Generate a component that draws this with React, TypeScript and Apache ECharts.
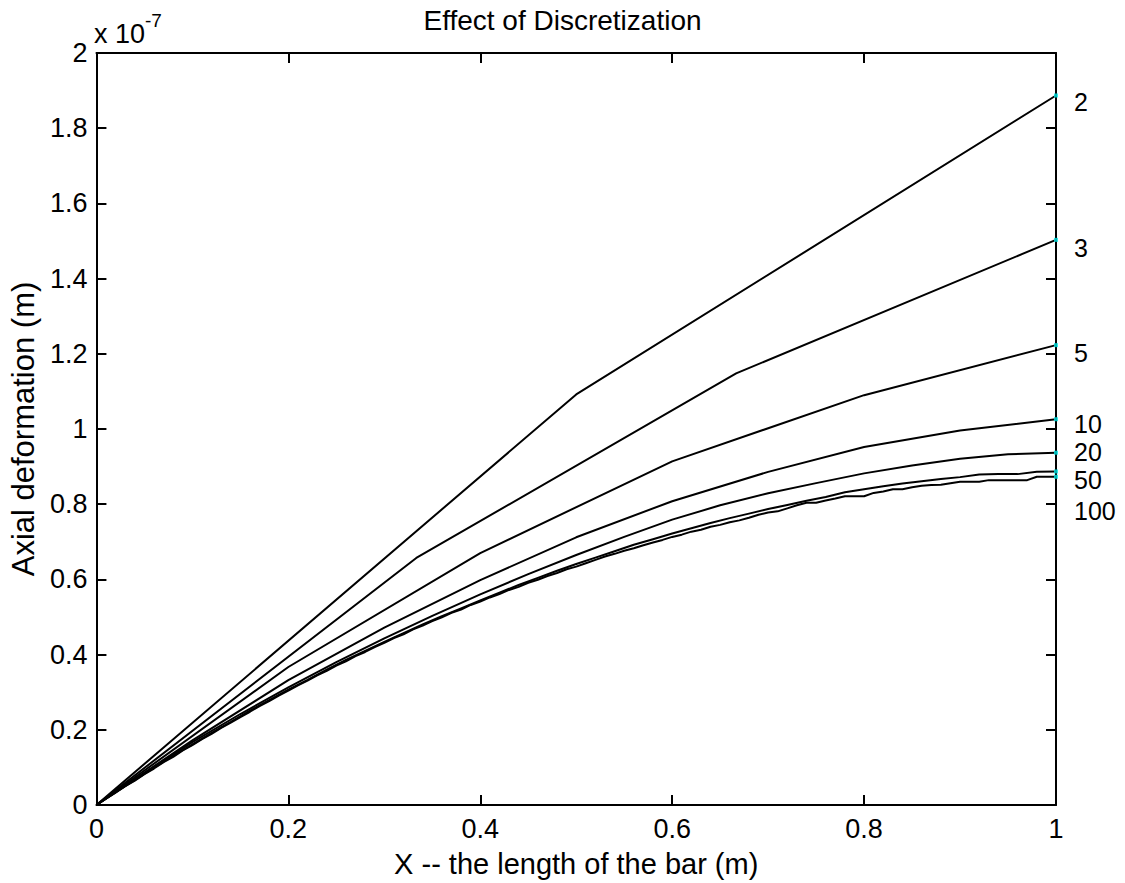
import React, { useEffect, useRef } from "react";
import * as echarts from "echarts";

// Axial deformation values in units of 1e-7 m, at evenly spaced nodes from x=0 to x=1
const U_2 = [0, 1.092, 1.887];
const U_3 = [0, 0.657, 1.148, 1.503];
const U_5 = [0, 0.367, 0.670, 0.914, 1.090, 1.223];
const U_10 = [0, 0.172, 0.332, 0.472, 0.598, 0.712, 0.808, 0.886, 0.952, 0.996, 1.026];
const U_20 = [
  0, 0.085, 0.167, 0.242, 0.313, 0.380, 0.443, 0.503, 0.560, 0.614, 0.665,
  0.713, 0.759, 0.797, 0.829, 0.856, 0.882, 0.903, 0.921, 0.933, 0.937,
];
const U_50 = [
  0, 0.034, 0.066, 0.099, 0.131, 0.161, 0.192, 0.221, 0.251, 0.279, 0.307,
  0.333, 0.360, 0.386, 0.410, 0.434, 0.457, 0.480, 0.502, 0.523, 0.544,
  0.565, 0.585, 0.604, 0.623, 0.641, 0.658, 0.675, 0.692, 0.707, 0.722,
  0.736, 0.750, 0.763, 0.775, 0.787, 0.798, 0.809, 0.819, 0.832, 0.840,
  0.848, 0.855, 0.861, 0.867, 0.872, 0.879, 0.880, 0.880, 0.886, 0.887,
];
const U_100 = [
  0, 0.017, 0.033, 0.050, 0.065, 0.082, 0.097, 0.114, 0.128, 0.145, 0.159,
  0.175, 0.189, 0.205, 0.219, 0.234, 0.248, 0.263, 0.276, 0.291, 0.304,
  0.318, 0.331, 0.345, 0.357, 0.371, 0.382, 0.396, 0.407, 0.420, 0.431,
  0.444, 0.454, 0.467, 0.477, 0.489, 0.499, 0.511, 0.520, 0.532, 0.541,
  0.552, 0.561, 0.572, 0.580, 0.591, 0.599, 0.609, 0.617, 0.627, 0.634,
  0.643, 0.652, 0.661, 0.668, 0.676, 0.683, 0.691, 0.698, 0.705, 0.713,
  0.719, 0.727, 0.732, 0.740, 0.745, 0.752, 0.757, 0.764, 0.772, 0.778,
  0.781, 0.789, 0.797, 0.804, 0.804, 0.810, 0.815, 0.821, 0.821, 0.821,
  0.830, 0.834, 0.840, 0.840, 0.845, 0.849, 0.851, 0.852, 0.856, 0.860,
  0.860, 0.860, 0.864, 0.864, 0.864, 0.864, 0.864, 0.873, 0.873, 0.873,
];

const SERIES_NAMES = ["2", "3", "5", "10", "20", "50", "100"];
const SERIES_VALUES = [U_2, U_3, U_5, U_10, U_20, U_50, U_100];
const LABEL_DY = [7, 8, 8, 5, -1, 9, 34];

const FONT = "'Liberation Sans', Arial, Helvetica, sans-serif";

export default function App() {
  const ref = useRef<HTMLDivElement>(null);

  useEffect(() => {
    document.body.style.margin = "0";
    const chart = echarts.init(ref.current!, null, { renderer: "svg" });

    const lineSeries = SERIES_VALUES.map((vals, si) => {
      const n = vals.length - 1;
      return {
        type: "line",
        name: SERIES_NAMES[si],
        xAxisIndex: 0,
        yAxisIndex: 0,
        data: vals.map((v, i) => [i / n, v]),
        symbol: "none",
        lineStyle: { color: "#000", width: 2 },
        z: 3,
        endLabel: {
          show: true,
          formatter: SERIES_NAMES[si],
          color: "#000",
          fontSize: 25,
          lineHeight: 24,
          fontFamily: FONT,
          distance: 18,
          offset: [0, LABEL_DY[si]],
        },
      };
    });

    const endPoints = SERIES_VALUES.map((vals) => [1, vals[vals.length - 1]]);

    const axisCommon = {
      type: "value",
      min: 0,
      interval: 0.2,
      axisLine: { show: true, onZero: false, lineStyle: { color: "#000", width: 2 } },
      axisTick: { show: true, inside: true, length: 10, lineStyle: { color: "#000", width: 2 } },
      splitLine: { show: false },
    };

    const fmt = (v: number) => String(Number(v.toFixed(1)));

    chart.setOption({
      animation: false,
      backgroundColor: "#fff",
      grid: { left: 92, top: 53, width: 964, height: 764, containLabel: false },
      xAxis: [
        {
          ...axisCommon,
          max: 1,
          position: "bottom",
          axisLabel: { color: "#000", fontSize: 27, fontFamily: FONT, margin: 10, formatter: fmt },
          name: "X -- the length of the bar (m)",
          nameLocation: "middle",
          nameGap: 44,
          nameTextStyle: { color: "#000", fontSize: 29, fontFamily: FONT },
        },
        {
          ...axisCommon,
          max: 1,
          position: "top",
          axisLabel: { show: false },
        },
      ],
      yAxis: [
        {
          ...axisCommon,
          max: 2,
          position: "left",
          axisLabel: { color: "#000", fontSize: 27, fontFamily: FONT, margin: 9, formatter: fmt },
          name: "Axial deformation (m)",
          nameLocation: "middle",
          nameGap: 54,
          nameTextStyle: { color: "#000", fontSize: 31, fontFamily: FONT },
        },
        {
          ...axisCommon,
          max: 2,
          position: "right",
          axisLabel: { show: false },
        },
      ],
      graphic: [
        {
          type: "text",
          left: "center",
          top: 6,
          style: {
            text: "Effect of Discretization",
            fill: "#000",
            fontSize: 28,
            fontFamily: FONT,
          },
        },
        {
          type: "text",
          x: 94,
          y: 6,
          style: {
            text: "{b|x 10}{s|-7}",
            fill: "#000",
            fontFamily: FONT,
            rich: {
              b: { fontSize: 27, fontFamily: FONT, fill: "#000", padding: [14, 0, 0, 0] },
              s: { fontSize: 19, fontFamily: FONT, fill: "#000", padding: [0, 0, 12, 0] },
            },
          },
        },
      ],
      series: [
        ...lineSeries,
        {
          type: "scatter",
          xAxisIndex: 0,
          yAxisIndex: 0,
          data: endPoints,
          symbol: "rect",
          symbolSize: 4,
          itemStyle: { color: "#00e5e5" },
          z: 5,
          silent: true,
        },
      ],
    });

    return () => chart.dispose();
  }, []);

  return <div ref={ref} style={{ width: 1125, height: 883 }} />;
}
